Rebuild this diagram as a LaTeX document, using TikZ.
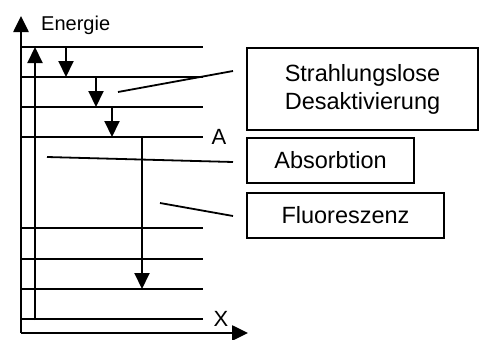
\documentclass[tikz,border=0pt]{standalone}
\usepackage{fontspec}
\setmainfont{Liberation Sans}
\usetikzlibrary{arrows.meta}
\begin{document}
\begin{tikzpicture}[x=1pt,y=-1pt,
  lvl/.style={line width=2pt},
  ax/.style={line width=2.6pt,-{Triangle[width=15pt,length=16pt]}},
  dn/.style={line width=2pt,-{Triangle[width=15pt,length=16pt]}},
  lead/.style={line width=1.8pt},
  box/.style={draw,line width=2pt,inner sep=0pt,align=center,font=\fontsize{23.5}{28}\selectfont},
  lab/.style={draw=none,inner sep=0pt,align=center,font=\fontsize{22}{26}\selectfont}]
\useasboundingbox (0,0) rectangle (480,340);
% axes
\coordinate (O) at (21,333);
\coordinate (Ytop) at (21,16);
\coordinate (Xend) at (248,333);
\draw[ax] (O) -- (Ytop);
\draw[ax] (O) -- (Xend);
\node[lab,anchor=west,font=\fontsize{20}{24}\selectfont] (en) at (41,25) {Energie};
\node[lab] (xl) at (221,319) {X};
\node[lab] (al) at (219,137) {A};
% levels
\foreach \y [count=\i] in {47,77,107,137,228,259,289,319}{
  \coordinate (L\i a) at (21,\y);
  \coordinate (L\i b) at (203,\y);
  \draw[lvl] (L\i a) -- (L\i b);
}
% absorption arrow
\coordinate (ab0) at (35,320);
\coordinate (ab1) at (35,47);
\draw[dn] (ab0) -- (ab1);
% relaxation arrows
\coordinate (r1a) at (66,47); \coordinate (r1b) at (66,77);
\coordinate (r2a) at (96,77); \coordinate (r2b) at (96,107);
\coordinate (r3a) at (112,107); \coordinate (r3b) at (112,137);
\draw[dn] (r1a) -- (r1b);
\draw[dn] (r2a) -- (r2b);
\draw[dn] (r3a) -- (r3b);
% fluorescence arrow
\coordinate (f0) at (142,137); \coordinate (f1) at (142,289);
\draw[dn] (f0) -- (f1);
% boxes
\node[box,minimum width=231pt,minimum height=82pt] (b1) at (362.5,89) {Strahlungslose\\Desaktivierung};
\node[box,minimum width=167pt,minimum height=45pt] (b2) at (330.5,160.5) {Absorbtion};
\node[box,minimum width=197pt,minimum height=45pt] (b3) at (345.5,215.5) {Fluoreszenz};
% leader lines
\coordinate (p1a) at (118,92); \coordinate (p1b) at (233,71);
\coordinate (p2a) at (47,157); \coordinate (p2b) at (233,162);
\coordinate (p3a) at (160,203); \coordinate (p3b) at (233,216);
\draw[lead] (p1a) -- (p1b);
\draw[lead] (p2a) -- (p2b);
\draw[lead] (p3a) -- (p3b);
\end{tikzpicture}
\end{document}
